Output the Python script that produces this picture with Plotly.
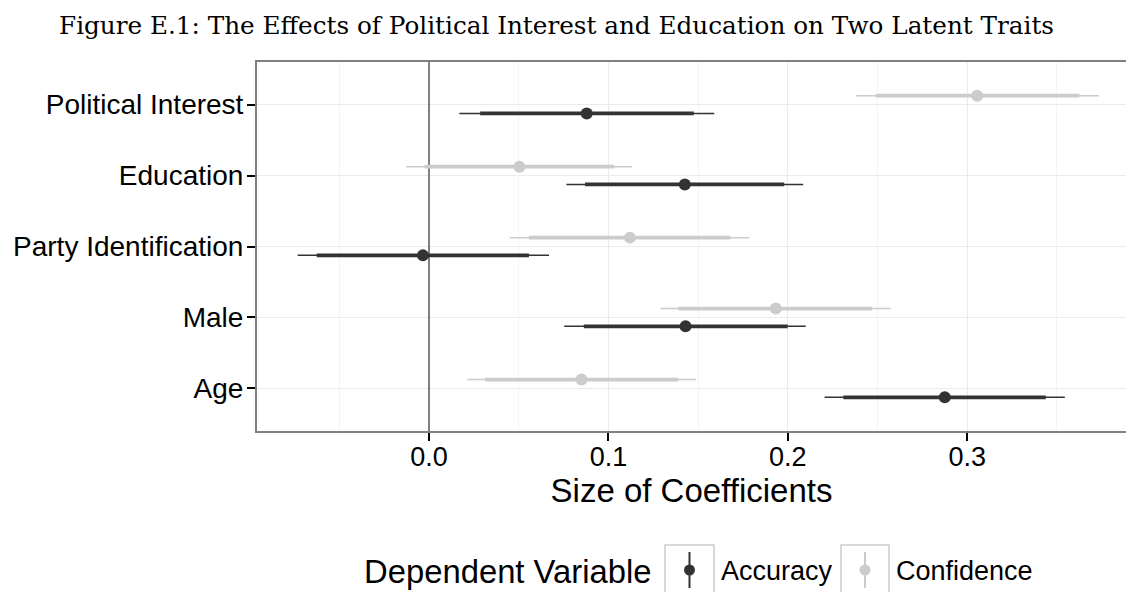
import plotly.graph_objects as go

# ---- data ----
categories = ["Age", "Male", "Party Identification", "Education", "Political Interest"]
series = ["Accuracy", "Confidence"]

acc_est = [0.2875, 0.143, -0.0034, 0.1426, 0.0879]
acc_lo90 = [0.231, 0.0863, -0.0626, 0.087, 0.0285]
acc_hi90 = [0.3438, 0.1999, 0.0557, 0.198, 0.1476]
acc_lo95 = [0.2205, 0.0754, -0.0732, 0.0766, 0.0169]
acc_hi95 = [0.3544, 0.2100, 0.0669, 0.2086, 0.1590]

conf_est = [0.085, 0.1933, 0.112, 0.0504, 0.3056]
conf_lo90 = [0.0313, 0.139, 0.0557, -0.0025, 0.249]
conf_hi90 = [0.1389, 0.247, 0.168, 0.1032, 0.3625]
conf_lo95 = [0.0213, 0.129, 0.045, -0.0128, 0.238]
conf_hi95 = [0.1489, 0.2574, 0.1786, 0.1132, 0.3735]

x_ticks = [0.0, 0.1, 0.2, 0.3]

colors = {"Accuracy": "#333333", "Confidence": "#cccccc"}
dodge = {"Accuracy": -0.125, "Confidence": 0.125}

data = {
    "Accuracy": (acc_est, acc_lo90, acc_hi90, acc_lo95, acc_hi95),
    "Confidence": (conf_est, conf_lo90, conf_hi90, conf_lo95, conf_hi95),
}

fig = go.Figure()

for s in ["Confidence", "Accuracy"]:
    est, lo90, hi90, lo95, hi95 = data[s]
    ypos = [i + 1 + dodge[s] for i in range(len(categories))]
    xs95, ys95, xs90, ys90 = [], [], [], []
    for k in range(len(categories)):
        xs95 += [lo95[k], hi95[k], None]
        ys95 += [ypos[k], ypos[k], None]
        xs90 += [lo90[k], hi90[k], None]
        ys90 += [ypos[k], ypos[k], None]
    fig.add_trace(go.Scatter(x=xs95, y=ys95, mode="lines",
                             line=dict(color=colors[s], width=1.5),
                             showlegend=False, hoverinfo="skip"))
    fig.add_trace(go.Scatter(x=xs90, y=ys90, mode="lines",
                             line=dict(color=colors[s], width=3.8),
                             showlegend=False, hoverinfo="skip"))
    fig.add_trace(go.Scatter(x=est, y=ypos, mode="markers", name=s,
                             marker=dict(color=colors[s], size=12, line=dict(width=0)),
                             showlegend=False))

# geometry: the page has an 8px body margin, so screen = figure + 8
OFF = 8
W, H = 1118, 592
ML, MR, MT, MB = 249, 0, 54, 169
PW, PH = W - ML - MR, H - MT - MB


def px(sx):
    return (sx - OFF - ML) / PW


def py(sy):
    return (H - MB - (sy - OFF)) / PH


shapes = []
annotations = []

SANS = "Liberation Sans, Arial, Helvetica"

# manual legend (screen-pixel positions)
annotations.append(dict(text="Dependent Variable", x=px(362), y=py(571), xref="paper", yref="paper",
                        xanchor="left", yanchor="middle", showarrow=False,
                        font=dict(family=SANS, size=32.8, color="#000000")))
legend_items = [("Accuracy", 665, 714, 719), ("Confidence", 841, 889, 894)]
for name, bx0, bx1, tx in legend_items:
    shapes.append(dict(type="rect", xref="paper", yref="paper",
                       x0=px(bx0), x1=px(bx1), y0=py(610), y1=py(545),
                       line=dict(color="#cccccc", width=1.5), fillcolor="white", layer="above"))
    cx = (bx0 + bx1) / 2
    shapes.append(dict(type="line", xref="paper", yref="paper",
                       x0=px(cx), x1=px(cx), y0=py(588), y1=py(552),
                       line=dict(color=colors[name], width=2), layer="above"))
    shapes.append(dict(type="circle", xref="paper", yref="paper",
                       x0=px(cx - 5.5), x1=px(cx + 5.5), y0=py(575.5), y1=py(564.5),
                       line=dict(color=colors[name], width=0), fillcolor=colors[name], layer="above"))
    annotations.append(dict(text=name, x=px(tx), y=py(571), xref="paper", yref="paper",
                            xanchor="left", yanchor="middle", showarrow=False,
                            font=dict(family=SANS, size=27, color="#000000")))

zero_screen = 429.0
per = 1794.0
xr = [-(zero_screen - OFF - ML) / per, (W - MR - (zero_screen - OFF)) / per]

fig.update_layout(
    width=W, height=H,
    margin=dict(l=ML, r=MR, t=MT, b=MB, pad=0),
    paper_bgcolor="white", plot_bgcolor="white",
    title=dict(text="Figure E.1: The Effects of Political Interest and Education on Two Latent Traits",
               x=(59 - OFF) / W, xanchor="left", y=1 - (25 - OFF) / H, yanchor="middle",
               font=dict(family="DejaVu Serif, serif", size=24.7, color="#000000")),
    xaxis=dict(range=xr, tickvals=x_ticks, ticktext=[f"{v:.1f}" for v in x_ticks],
               showgrid=True, gridcolor="#ebebeb", gridwidth=1.2,
               minor=dict(dtick=0.05, tick0=0, showgrid=True, gridcolor="#f4f4f4", gridwidth=0.8, ticklen=0),
               zeroline=True, zerolinecolor="#808080", zerolinewidth=2.2,
               showline=True, linecolor="#808080", linewidth=2, mirror=True,
               ticks="outside", ticklen=8, tickwidth=2, tickcolor="#000000",
               ticklabelstandoff=-7,
               tickfont=dict(family=SANS, size=27, color="#000000"),
               title=dict(text="Size of Coefficients", standoff=2,
                          font=dict(family=SANS, size=33, color="#000000"))),
    yaxis=dict(range=[0.4, 5.6], tickvals=[1, 2, 3, 4, 5], ticktext=categories,
               showgrid=True, gridcolor="#ebebeb", gridwidth=1.2, zeroline=False,
               showline=True, linecolor="#808080", linewidth=2, mirror=False,
               ticks="outside", ticklen=8, tickwidth=2, tickcolor="#000000",
               ticklabelstandoff=-2,
               tickfont=dict(family=SANS, size=28, color="#000000")),
    shapes=shapes, annotations=annotations, showlegend=False,
)

fig.write_html("out.html")
